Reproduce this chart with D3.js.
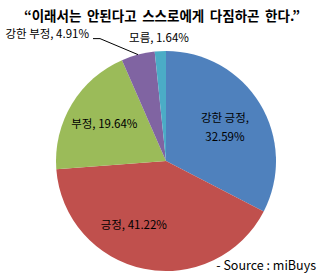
<!DOCTYPE html>
<html>
<head>
<meta charset="utf-8">
<script src="https://cdn.jsdelivr.net/npm/d3@7"></script>
<style>
  body { margin: 0; background: #fff; }
  svg { display: block; }
  text { font-family: "Noto Sans CJK KR", "Noto Sans", sans-serif; fill: #000; }
</style>
</head>
<body>
<svg id="pie" width="328" height="279"></svg>
<script>
// dati
const categories = ['강한 긍정', '긍정', '부정', '강한 부정', '모름']
const values = [32.59, 41.22, 19.64, 4.91, 1.64]
const colors = ['#4F81BD', '#C0504D', '#9BBB59', '#8064A2', '#4BACC6']
const titleText = '“이래서는 안된다고 스스로에게 다짐하곤 한다.”'
const sourceText = '- Source : miBuys'

const svg = d3.select('#pie')
const cx = 166
const cy = 161
const radius = 110

const data = categories.map((c, i) => ({ name: c, value: values[i], color: colors[i] }))

const pie = d3.pie()
  .sort(null)
  .value(d => d.value)

const arc = d3.arc()
  .innerRadius(0)
  .outerRadius(radius)

const arcs = pie(data)

const g = svg.append('g')
  .attr('transform', `translate(${cx}, ${cy})`)

g.selectAll('path.slice')
  .data(arcs)
  .enter()
  .append('path')
    .attr('class', 'slice')
    .attr('d', arc)
    .attr('fill', d => d.data.color)

// titolo
svg.append('text')
  .attr('x', 162)
  .attr('y', 21)
  .attr('text-anchor', 'middle')
  .style('font-size', '13.5px')
  .style('font-weight', 'bold')
  .style('word-spacing', '2.5px')
  .text(titleText)

// etichette: raggio e piccoli spostamenti come in Excel
const labelPos = [
  { r: 69, dx: 0, dy: 0, lines: 2 },
  { r: 71, dx: -18, dy: -6, lines: 1 },
  { r: 72, dx: 0, dy: 0, lines: 1 },
  { r: 0, dx: 0, dy: 0, lines: 1, outside: true },
  { r: 123, dx: 3, dy: 0, lines: 1 }
]

const mid = d => (d.startAngle + d.endAngle) / 2
const polar = (r, a) => [Math.sin(a) * r, -Math.cos(a) * r]

arcs.forEach((d, i) => {
  const p = labelPos[i]
  const label = `${d.data.name}, ${d.data.value.toFixed(2)}%`
  if (p.outside) {
    const edge = polar(radius, mid(d))
    const elbow = [edge[0] - 38, edge[1] - 16]
    g.append('polyline')
      .attr('points', [edge, elbow, [elbow[0] - 7, elbow[1]]].map(q => q.join(',')).join(' '))
      .attr('fill', 'none')
      .attr('stroke', '#000')
      .attr('stroke-width', 1)
    g.append('text')
      .attr('x', elbow[0] - 11)
      .attr('y', elbow[1] - 1)
      .attr('text-anchor', 'end')
      .style('font-size', '11.5px')
      .text(label)
    return
  }
  let xy = polar(p.r, mid(d))
  if (i === 4) xy = polar(p.r, mid(d) - 0.03)
  const t = g.append('text')
    .attr('text-anchor', 'middle')
    .attr('x', xy[0] + p.dx)
    .attr('y', xy[1] + p.dy)
    .style('font-size', '11.5px')
  if (p.lines === 2) {
    t.append('tspan').attr('x', xy[0] + p.dx).attr('dy', '-0.25em').text(d.data.name + ',')
    t.append('tspan').attr('x', xy[0] + p.dx).attr('dy', '1.6em').text(d.data.value.toFixed(2) + '%')
  } else {
    t.attr('dy', '0.35em').text(label)
  }
})

// fonte
svg.append('text')
  .attr('x', 316)
  .attr('y', 270)
  .attr('text-anchor', 'end')
  .style('font-size', '12.5px')
  .text(sourceText)
</script>
</body>
</html>
